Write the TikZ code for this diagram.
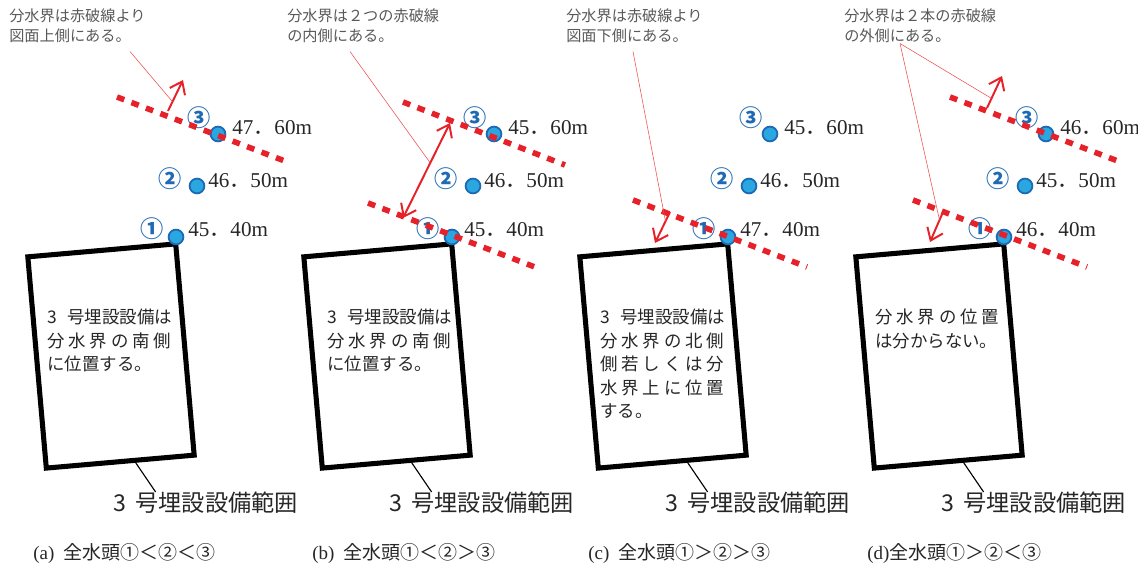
\documentclass[tikz,border=0pt]{standalone}
\usepackage{fontspec}
\setmainfont{Liberation Serif}
\newfontfamily\jp{Noto Sans CJK JP}
\newfontfamily\jpwide{Noto Sans CJK JP}[LetterSpace=22]
\usetikzlibrary{arrows.meta,calc}
\definecolor{boundred}{HTML}{E62129}
\definecolor{leadred}{HTML}{F05050}
\definecolor{wellfill}{HTML}{2AA6E0}
\definecolor{wellblue}{HTML}{1F6AB4}
\definecolor{notegray}{HTML}{595959}
\definecolor{ink}{HTML}{262626}
\tikzset{
  note/.style={anchor=north west,align=left,inner sep=0pt,text=notegray,
               font=\jp\fontsize{10.8}{14.9}\selectfont},
  site/.style={draw=black,line width=3.6pt,minimum width=3.71cm,
               minimum height=5.3cm,rotate=5,inner sep=0pt},
  sitetext/.style={anchor=north west,align=left,inner sep=0pt,text=ink,
                   font=\jp\fontsize{12.4}{16.7}\selectfont},
  wellpt/.style={circle,draw=wellblue,fill=wellfill,line width=1.3pt,
                 minimum size=10.5pt,inner sep=0pt},
  wellno/.style={text=wellblue,inner sep=0pt,font=\jp\bfseries\fontsize{16.5}{17}\selectfont},
  head/.style={anchor=west,inner sep=0pt,text=ink,font=\fontsize{15}{16}\selectfont},
  rangelbl/.style={anchor=west,inner sep=0pt,text=ink,font=\jp\fontsize{16.5}{18}\selectfont},
  caption/.style={anchor=west,inner sep=0pt,text=ink,font=\fontsize{13.5}{15}\selectfont},
  bound/.style={draw=boundred,line width=4pt,dash pattern=on 5.5pt off 5.5pt},
  redarr/.style={-{Straight Barb[length=8pt,width=12pt]},draw=boundred,line width=1.4pt},
  dblarr/.style={{Straight Barb[length=8pt,width=12pt]}-{Straight Barb[length=8pt,width=12pt]},
                 draw=boundred,line width=1.4pt},
  leadline/.style={draw=leadred,line width=0.4pt},
  siteline/.style={draw=black,line width=0.8pt}
}

\begin{document}
\begin{tikzpicture}[x=0.025cm,y=-0.025cm]
  \path[use as bounding box] (0,0) rectangle (1138,569);

  % (a)
  \begin{scope}
    \node[note] (anote) at (9,8) {分水界は赤破線より\\図面上側にある。};
    \node[site] (abox) at (111,356) {};
    \node[sitetext] (atext) at (47,309)
      {3\hspace{.6em}号埋設設備は\\{\jpwide 分水界の南側}\\に位置する。};
    \node[wellpt] (a1) at (176,237) {};
    \node[wellpt] (a2) at (197,186) {};
    \node[wellpt] (a3) at (218,134) {};
    \node[wellno] (a1n) at (152,229) {①};
    \node[wellno] (a2n) at (170,179) {②};
    \node[wellno] (a3n) at (199,118) {③};
    \node[head] (a1v) at (188,230) {45{\jp．}40m};
    \node[head] (a2v) at (208,181) {46{\jp．}50m};
    \node[head] (a3v) at (232,128) {47{\jp．}60m};
    \draw[bound] ($(a3)+(-101,-37)$) -- ($(a3)+(72,29)$);
    \coordinate (aup0) at (168,111);
    \coordinate (aup1) at (183,80);
    \draw[redarr] (aup0) -- (aup1);
    \draw[leadline] ($(anote.south west)+(121,8)$) -- ($(aup0)!0.3!(aup1)$);
    \node[rangelbl] (albl) at (113,503) {3\hspace{.4em}号埋設設備範囲};
    \draw[siteline] ($(abox.south)!0.2!(abox.south east)$)
      -- ($(albl.north west)!0.23!(albl.north east)$);
    \node[caption] (acap) at (33,553) {(a)\hspace{.5em}{\jp 全水頭①＜②＜③}};
  \end{scope}

  % (b)
  \begin{scope}[shift={(276,0)}]
    \node[note] (bnote) at (11,8) {分水界は２つの赤破線\\の内側にある。};
    \node[site] (bbox) at (111,356) {};
    \node[sitetext] (btext) at (51,309)
      {3\hspace{.6em}号埋設設備は\\{\jpwide 分水界の南側}\\に位置する。};
    \node[wellpt] (b1) at (176,237) {};
    \node[wellpt] (b2) at (197,186) {};
    \node[wellpt] (b3) at (218,134) {};
    \node[wellno] (b1n) at (152,229) {①};
    \node[wellno] (b2n) at (170,179) {②};
    \node[wellno] (b3n) at (199,118) {③};
    \node[head] (b1v) at (188,230) {45{\jp．}40m};
    \node[head] (b2v) at (208,181) {46{\jp．}50m};
    \node[head] (b3v) at (232,128) {45{\jp．}60m};
    \draw[bound] ($(b3)+(-91,-32)$) -- ($(b3)+(71,31)$);
    \draw[bound] ($(b1)+(-84,-34)$) -- ($(b1)+(88,32)$);
    \coordinate (bdn) at (127,218);
    \coordinate (bup) at (174,123);
    \draw[dblarr] (bdn) -- (bup);
    \draw[leadline] ($(bnote.south west)+(63,8)$) -- ($(bdn)!0.58!(bup)$);
    \node[rangelbl] (blbl) at (113,503) {3\hspace{.4em}号埋設設備範囲};
    \draw[siteline] ($(bbox.south)!0.2!(bbox.south east)$)
      -- ($(blbl.north west)!0.23!(blbl.north east)$);
    \node[caption] (bcap) at (36,553) {(b)\hspace{.5em}{\jp 全水頭①＜②＞③}};
  \end{scope}

  % (c)
  \begin{scope}[shift={(552,0)}]
    \node[note] (cnote) at (14,8) {分水界は赤破線より\\図面下側にある。};
    \node[site] (cbox) at (111,356) {};
    \node[sitetext] (ctext) at (48,309)
      {3\hspace{.6em}号埋設設備は\\{\jpwide 分水界の北側}\\{\jpwide 側若しくは分}\\{\jpwide 水界上に位置}\\する。};
    \node[wellpt] (c1) at (176,237) {};
    \node[wellpt] (c2) at (197,186) {};
    \node[wellpt] (c3) at (218,134) {};
    \node[wellno] (c1n) at (152,229) {①};
    \node[wellno] (c2n) at (170,179) {②};
    \node[wellno] (c3n) at (199,118) {③};
    \node[head] (c1v) at (188,230) {47{\jp．}40m};
    \node[head] (c2v) at (208,181) {46{\jp．}50m};
    \node[head] (c3v) at (232,128) {45{\jp．}60m};
    \draw[bound] ($(c1)+(-95,-37)$) -- ($(c1)+(79,30)$);
    \coordinate (cdn0) at (118,212);
    \coordinate (cdn1) at (103,243);
    \draw[redarr] (cdn0) -- (cdn1);
    \draw[leadline] ($(cnote.south west)+(67,8)$) -- ($(cdn0)!0.3!(cdn1)$);
    \node[rangelbl] (clbl) at (113,503) {3\hspace{.4em}号埋設設備範囲};
    \draw[siteline] ($(cbox.south)!0.2!(cbox.south east)$)
      -- ($(clbl.north west)!0.23!(clbl.north east)$);
    \node[caption] (ccap) at (36,553) {(c)\hspace{.5em}{\jp 全水頭①＞②＞③}};
  \end{scope}

  % (d)
  \begin{scope}[shift={(828,0)}]
    \node[note] (dnote) at (16,8) {分水界は２本の赤破線\\の外側にある。};
    \node[site] (dbox) at (111,356) {};
    \node[sitetext] (dtext) at (47,309) {{\jpwide 分水界の位置}\\は分からない。};
    \node[wellpt] (d1) at (176,237) {};
    \node[wellpt] (d2) at (197,186) {};
    \node[wellpt] (d3) at (218,134) {};
    \node[wellno] (d1n) at (152,229) {①};
    \node[wellno] (d2n) at (170,179) {②};
    \node[wellno] (d3n) at (199,118) {③};
    \node[head] (d1v) at (188,230) {46{\jp．}40m};
    \node[head] (d2v) at (208,181) {45{\jp．}50m};
    \node[head] (d3v) at (232,128) {46{\jp．}60m};
    \draw[bound] ($(d3)+(-96,-37)$) -- ($(d3)+(77,29)$);
    \draw[bound] ($(d1)+(-91,-37)$) -- ($(d1)+(83,30)$);
    \coordinate (dup0) at (159,108);
    \coordinate (dup1) at (174,76);
    \coordinate (ddn0) at (115,212);
    \coordinate (ddn1) at (102,242);
    \draw[redarr] (dup0) -- (dup1);
    \draw[redarr] (ddn0) -- (ddn1);
    \coordinate (dlead) at ($(dnote.south west)+(56,0)$);
    \draw[leadline] (dlead) -- ($(dup0)!0.3!(dup1)$);
    \draw[leadline] (dlead) -- ($(ddn0)!0.27!(ddn1)$);
    \node[rangelbl] (dlbl) at (113,503) {3\hspace{.4em}号埋設設備範囲};
    \draw[siteline] ($(dbox.south)!0.2!(dbox.south east)$)
      -- ($(dlbl.north west)!0.23!(dlbl.north east)$);
    \node[caption] (dcap) at (39,553) {(d){\jp 全水頭①＞②＜③}};
  \end{scope}
\end{tikzpicture}
\end{document}
